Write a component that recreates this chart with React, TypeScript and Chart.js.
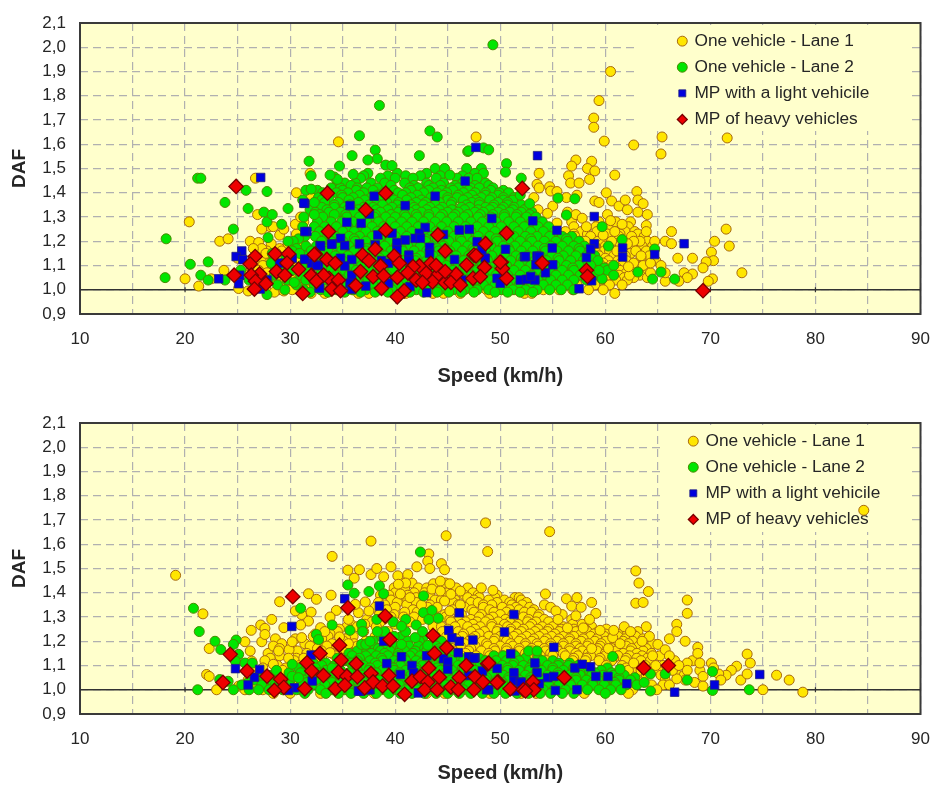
import React, { useEffect, useRef } from "react";
import { Chart, registerables } from "chart.js";

Chart.register(...registerables);

type Row = [number, number[]];
type Pair = [number, number];

const seriesNames = ["One vehicle - Lane 1", "One vehicle - Lane 2", "MP with a light vehicile", "MP of heavy vehicles"];
const axisTicks = [10, 20, 30, 40, 50, 60, 70, 80, 90];

const topLane1Sparse: Pair[] = [[60.5,1.9],[59.4,1.78],[58.9,1.708],[58.9,1.67],[59.9,1.613],[62.7,1.597],[65.4,1.63],[65.3,1.56],[71.6,1.626],[47.7,1.63],[60.9,1.473],[57.2,1.535],[56.8,1.51],[58.7,1.53],[58.3,1.5],[59,1.49],[56.5,1.47],[53.7,1.48],[56.7,1.44],[57.5,1.44],[58.5,1.455],[53.5,1.435],[53.7,1.42],[54.7,1.425],[54.8,1.407],[55.4,1.405],[57.3,1.39],[56.3,1.38],[53.2,1.38],[60.1,1.4],[59,1.366],[59.4,1.36],[60.6,1.366],[61.3,1.345],[62.1,1.33],[61.9,1.37],[63,1.405],[63.1,1.37],[63.6,1.355],[63.1,1.32],[64,1.31],[53.6,1.33],[55,1.345],[54.5,1.315],[56.4,1.32],[57.2,1.31],[57.8,1.295],[58.2,1.26],[55.4,1.275],[60.2,1.31],[60.5,1.285],[61.6,1.27],[60.9,1.24],[59.8,1.225],[60.6,1.2],[63.9,1.265],[63.9,1.24],[66.3,1.24],[64.7,1.2],[65.7,1.2],[66.3,1.19],[63.3,1.2],[62.7,1.2],[62.9,1.16],[63.4,1.14],[62.7,1.11],[63.6,1.1],[66.9,1.13],[68.3,1.13],[70.4,1.2],[71.5,1.25],[71.8,1.18],[70.1,1.155],[70.3,1.12],[69.6,1.115],[69.3,1.09],[73,1.07],[70.2,1.045],[69.8,1.035],[67.5,1.07],[68.3,1.065],[67.8,1.05],[67,1.035],[65.7,1.035],[65.7,1.07],[64.3,1.07],[65.3,1.1],[62.3,1.06],[61.6,1.02],[60.9,0.985],[62.2,1.095],[64.3,1.11],[61.1,1.16],[62.1,1.19],[20.4,1.28],[23.3,1.2],[24.1,1.21],[20,1.045],[21.3,1.015],[25.1,1.005],[23.7,1.08],[22.5,1.045],[26.7,1.46],[26.9,1.31],[30.6,1.4],[34.6,1.61],[31.9,1.48],[31.3,1.28],[32.9,1.335],[32.5,1.34],[26.2,1.2],[27,1.195],[27.3,1.17],[26.5,1.17],[28.1,1.26],[28.4,1.26],[27.3,1.25],[29,1.225],[29.4,1.25],[30.6,1.23],[31.1,1.2],[28.5,0.99],[29.4,0.995],[26,0.995],[29.4,1.025],[27.7,1.15],[25,1.13],[30.5,1.27],[31,1.3],[32,1.38],[34.8,1.27],[36,1.39],[37.8,1.42],[37.5,1.33],[39.2,1.3]];
const topLane1Rows: Row[] = [
  [1.28,[56.8,59.4,61,62.4]],
  [1.26,[53.9,57,59.1,60.2,62.2]],
  [1.24,[54.8,56.2,57.7,59.2,61.9,62.8]],
  [1.23,[55.3,57,58.3,60.2,61.4,63.1]],
  [1.22,[54,55.6,57.1,58.6,61.3,62.5,63.7]],
  [1.2,[53.2,55.1,56.6,58.1,59.3,61.6,64]],
  [1.19,[28.2,29.8,54.4,56,57.4,59.8,61.1,63]],
  [1.18,[52.7,54.6,56.3,57.8,59,60,61,62.1,63.5,64.5]],
  [1.17,[29,30.3,31.3,55.7,57.2,58.6,60.6,62.6]],
  [1.16,[27.8,29.2,53.3,55.4,57.2,58.5,59.9,60.4,63.9]],
  [1.15,[26.9,28.7,30.6,54.6,56.6,59.2,61.5,62.4]],
  [1.14,[26.8,28.3,30.1,54.2,56.1,57.6,59.4,60.8,61.9,64.2]],
  [1.13,[27.4,29.6,31,55.1,57,58.3,60,63.4]],
  [1.12,[28.9,30.6,52.4,55.4,57.2,58.9,60.3,61.2,62,64.8]],
  [1.11,[26.6,28,30,54.6,56.8,59.8,61.5,63]],
  [1.1,[27.4,29.4,31.2,53.7,56.4,58,59.6,60.5,61.6,63]],
  [1.09,[26.3,28.4,30.5,55.6,57.6,60,61.1,62.6,63.5]],
  [1.08,[27,28.3,30,54.9,57.3,59,60.1,61.4,62.9,64]],
  [1.07,[27.8,29.5,31,56.5,58.4,62,63.1]],
  [1.06,[25.8,29,30.7,53.2,56,57.6,58.8,60.3,61.3,63.3]],
  [1.05,[27,28.6,30.4,54.6,57,59.3,61.8,62.7,64]],
  [1.04,[26.4,28.2,30.1,31.4,55,56.8,58.4,59.6,61,62.1]],
  [1.02,[27.2,28.9,30.7,32.1,33.6,35.3,53.4,55.7,57.3,59,60.4]],
  [1,[27.7,28.9,30.2,31.6,33,34.4,35.9,37.2,38.7,40.2,41.5,43,44.4,45.9,47.3,48.7,50.1,51.4,52.8,54.1,55.6,56.9,58.4,59.8]],
  [0.985,[32,33.3,36.5,37.5,41,43.6,44.6,46.2,49,52.3,53]],
];

const topLane2Sparse: Pair[] = [[49.3,2.01],[38.5,1.76],[43.3,1.655],[44,1.63],[36.6,1.635],[21.2,1.46],[21.5,1.46],[18.2,1.21],[18.1,1.05],[20.5,1.105],[21.5,1.06],[22.2,1.115],[22.2,1.04],[23.8,1.04],[23.8,1.36],[24.6,1.25],[25.8,1.41],[26,1.335],[27.8,1.405],[27.5,1.32],[27.8,1.28],[28.3,1.31],[29.2,1.27],[27.9,1.215],[29.8,1.335],[31.8,1.53],[32,1.47],[31.5,1.41],[32,1.415],[31.2,1.37],[32.3,1.36],[31.3,1.3],[32.3,1.31],[35.9,1.553],[38.1,1.576],[38.3,1.54],[37.4,1.535],[34.7,1.51],[34.2,1.465],[34.5,1.455],[42.3,1.553],[46.9,1.57],[47,1.573],[48.4,1.585],[48.9,1.577],[50.6,1.52],[50.5,1.485],[52,1.46],[51.9,1.39],[52.8,1.355],[55.5,1.378],[57.1,1.375],[56.3,1.308],[59.7,1.26],[61.6,1.207],[64.7,1.168],[60.3,1.18],[63.1,1.073],[64.5,1.044],[65.3,1.073],[66.6,1.044],[60.8,1.1],[60.8,1.06],[59.7,1.045],[59.4,1.08],[45.2,1.473],[39.1,1.514],[39.7,1.512],[33.8,1.473],[36,1.476],[25.3,1.08],[26.1,1.04],[27.8,0.98],[28.3,1.15],[29.8,1.2],[30.9,1.15],[31.1,1.1],[29,1.08],[28.2,1.11],[30.4,1.03]];
const topLane2Rows: Row[] = [
  [1.5,[43.8,44.7,46.8,48.2]],
  [1.48,[37.4,40.2,43,47.6,48.4]],
  [1.47,[37,39.3,41,42.4,44.3,46.4]],
  [1.46,[36.7,38.6,40,41.7,43.9,45.9,47,47.8]],
  [1.44,[35.2,36.2,37.7,39,40.9,43,44.6,46.4,48.6]],
  [1.43,[34.4,35.8,39.6,41.8,43.2,44.3,45.7,47.6,48.9]],
  [1.42,[33.9,34.8,36.4,37.3,38.3,41.4,42.2,43.6,45.3,46,47.2,48,49.3]],
  [1.41,[32.6,35,36.3,37.9,39.9,41.5,43.2,44.4,45.5,47,49.1,50.3]],
  [1.4,[33.1,34.4,35.5,37,38.9,40.3,41,42.7,44,44.9,46.5,47.6,48.6,49.9,50.8]],
  [1.39,[33.6,34.9,36.6,38.3,40.7,42.1,44.6,46,47.3,48.6,49.8]],
  [1.38,[32.7,33.7,35,36,37.7,39.6,41.5,43.4,45,45.9,46.9,48.2,49.2,50.3,51.3]],
  [1.37,[33,35.6,37.1,38.7,39.9,41.1,42.5,43.8,45,46.5,47.7,49,50.3,51.2]],
  [1.36,[33.3,34.6,36.5,38.2,39.2,40.3,42,42.9,44.2,45.4,47.3,48,49.8,50.7]],
  [1.35,[32.5,34.2,35.7,37.5,38.8,40.2,41.5,42.7,43.8,45.3,46.8,48,49.4,50.7,52]],
  [1.34,[33,34.2,35.2,37,37.9,39.7,41,41.8,43.3,44.5,46.3,47.1,48.6,49.3,50.3,51.3,52.6]],
  [1.33,[31.9,33.5,35.5,36.5,38.2,39.3,40.5,42,43,44.2,45.4,46.6,47.9,49,50.1,51.2,52.3]],
  [1.32,[32.4,33.7,34.8,36.1,37.4,38.6,40.3,41.4,42.5,43.8,45,46,47.6,48.4,49.8,50.9,52,53]],
  [1.31,[32.8,34.2,35.3,37,38.1,39.6,40.9,42,43.2,44.5,45.7,46.9,48.1,49.3,50.4,51.6,52.8]],
  [1.3,[33.1,35.4,36.6,38,39.1,40,41,42.1,43.2,44.3,45.5,46.6,47.9,49.1,50.4,51.5,52.5,53.4]],
  [1.28,[32.6,33.9,34.9,36,37.3,38.4,39.6,40.6,41.6,42.7,43.8,44.9,46,47.2,48.3,49.6,50.8,51.9,53,54]],
  [1.26,[31.2,32.3,33.3,34.4,35.5,36.7,37.8,38.9,40,41.1,42.2,43.3,44.4,45.6,46.7,47.8,48.9,50.1,51.3,52.3,53.6,54.6]],
  [1.24,[32.8,33.8,35,36.1,37.2,38.3,39.4,40.5,41.6,42.8,43.9,45,46.1,47.2,48.4,49.5,50.6,51.7,52.9,54.1,55.2]],
  [1.22,[31.4,32.4,34.3,35.6,36.6,37.8,38.9,40,41.1,42.3,43.4,44.5,45.6,46.8,47.9,49,50.2,51.3,52.4,53.5,54.7,55.9,56.8]],
  [1.21,[30.8,33.4,36.1,39.5,42.9,46.2,49.6,52.9,56.3]],
  [1.2,[30.3,33,33.9,35,36.2,37.2,38.4,39.5,40.6,41.8,42.9,44,45.1,46.3,47.4,48.5,49.7,50.8,51.9,53,54.2,55.3,56.4,57.5]],
  [1.18,[31.5,32.5,34.4,35.6,36.7,37.9,39,40.1,41.2,42.4,43.5,44.6,45.8,46.9,48,49.1,50.3,51.4,52.5,53.6,54.8,55.9,57,58]],
  [1.17,[30.6,33.2,37.3,40.6,44,47.4,50.8,54.2,57.5]],
  [1.16,[30.2,32,33.6,34.9,36.1,37.2,38.4,39.6,40.7,41.8,43,44.1,45.2,46.4,47.5,48.6,49.8,50.9,52,53.1,54.3,55.4,56.5,57.6,58.5]],
  [1.14,[31.3,33,34.3,35.5,36.7,37.8,39,40.1,41.3,42.4,43.6,44.7,45.8,47,48.1,49.2,50.4,51.5,52.6,53.8,54.9,56,57.2,58.2,59]],
  [1.13,[29.6,32.7,38.5,42,45.2,48.7,52,55.5,58.7]],
  [1.12,[29.9,32.3,33.8,35,36.2,37.3,38.5,39.6,40.8,41.9,43,44.2,45.3,46.5,47.6,48.8,49.9,51,52.2,53.3,54.4,55.6,56.7,57.9,59.3]],
  [1.1,[29.3,32.5,33.2,34.5,35.6,36.8,38,39.1,40.3,41.4,42.6,43.7,44.9,46,47.2,48.3,49.5,50.6,51.8,52.9,54,55.2,56.3,57.5,58.6]],
  [1.09,[28.6,31.6,35.2,39.7,43.1,46.5,49.9,53.5,56.9,59.9]],
  [1.08,[30.2,31.8,33.9,35.1,36.3,37.4,38.6,39.8,40.9,42.1,43.2,44.4,45.5,46.7,47.8,49,50.1,51.3,52.4,53.6,54.7,55.9,57,58.1,60.2]],
  [1.06,[28.5,31,32.8,34.4,35.6,36.9,38,39.2,40.4,41.5,42.7,43.8,45,46.1,47.3,48.4,49.6,50.7,51.9,53,54.2,55.3,56.5,57.6,58.9]],
  [1.04,[27.9,29.7,31.5,33.3,34.9,36.2,37.4,38.6,39.8,41,42.1,43.3,44.4,45.6,46.7,47.9,49,50.2,51.3,52.5,53.6,54.8,55.9,57,58.2]],
  [1.02,[28.8,30.6,32.3,33.9,35.4,36.7,37.9,39.1,40.3,41.5,42.6,43.8,44.9,46.1,47.2,48.4,49.5,50.7,51.8,53,54.1,55.3,56.4]],
  [1,[29.5,31.3,32.9,34.5,36,37.2,38.5,39.7,40.9,42,43.2,44.3,45.5,46.6,47.8,48.9,50.1,51.2,52.4,53.5,54.7,55.8,57]],
  [0.99,[31.9,33.6,35.2,36.7,38.1,39.3,41.4,42.7,44,45.1,46.3,47.5,49.5,50.7,51.9,53.1]],
];

const topLightSparse: Pair[] = [[46.66,1.448],[47.68,1.587],[53.55,1.553],[43.8,1.386],[38,1.386],[35.7,1.347],[40.95,1.347],[31.4,1.356],[37.55,1.312],[49.2,1.294],[53.1,1.284],[35.4,1.278],[36.76,1.274],[31.6,1.24],[42.85,1.257],[46.1,1.246],[47.05,1.249],[38.35,1.226],[42.3,1.233],[44.6,1.228],[39.7,1.233],[34.8,1.212],[40.95,1.205],[41.9,1.212],[42.4,1.212],[32.85,1.182],[33.97,1.189],[35.2,1.182],[36.6,1.189],[40.16,1.194],[40.16,1.164],[38.1,1.185],[43.27,1.175],[43.27,1.15],[47.8,1.198],[48.25,1.164],[50.5,1.167],[52.3,1.136],[53.5,1.139],[31.4,1.125],[34.8,1.13],[35.87,1.125],[41.3,1.143],[41.3,1.122],[45.65,1.125],[48.57,1.13],[32.06,1.109],[32.7,1.102],[35.2,1.098],[38.7,1.12],[39.36,1.109],[49.7,1.047],[50.3,1.075],[51.9,1.04],[52.5,1.043],[53.3,1.04],[35.87,1.06],[35.7,1.027],[37.2,1.015],[32.76,1.008],[39.36,1.027],[35.87,1.002],[41.4,1.013],[43,0.988],[46.35,1.04],[50,1.027],[27.2,1.463],[31.3,1.357],[31.4,1.24],[25.4,1.16],[24.86,1.137],[25.5,1.124],[25.2,1.06],[25.1,1.025],[23.2,1.045],[27.15,1.003],[27.8,1.04],[29,1.11],[30.2,1.13],[31.4,1.126],[32.5,1.1],[32.9,1.18],[33.97,1.188],[32.8,1.007],[58.95,1.302],[55.4,1.245],[58.95,1.19],[58.6,1.168],[58.2,1.133],[54.95,1.172],[52.4,1.137],[53.7,1.137],[53.4,1.103],[55,1.103],[54.3,1.07],[52.9,1.055],[61.65,1.172],[61.65,1.135],[64.7,1.145],[67.5,1.19],[57.5,1.004],[58.7,1.037]];
const topHeavySparse: Pair[] = [[33.55,1.398],[39.1,1.398],[37.2,1.329],[52.1,1.418],[33.65,1.24],[39.1,1.246],[44.06,1.226],[50.6,1.233],[38.1,1.167],[44.76,1.16],[48.6,1.19],[32.4,1.147],[33.5,1.125],[34.3,1.109],[36.9,1.143],[37.5,1.12],[39.9,1.139],[40.4,1.109],[47.5,1.143],[42.3,1.098],[43.4,1.109],[46.8,1.102],[48.5,1.092],[50.1,1.113],[38.6,1.098],[36.7,1.075],[32.06,1.058],[33.7,1.047],[34.6,1.04],[37.9,1.054],[38.9,1.058],[40.2,1.051],[41.7,1.095],[42.95,1.068],[44.1,1.064],[45.8,1.064],[42,1.04],[43.55,1.033],[44.76,1.029],[47.4,1.047],[50.6,1.047],[50.2,1.088],[36.25,1.017],[38.7,1.006],[33.97,1.003],[34.8,0.996],[31.2,0.985],[40.85,0.995],[40.2,0.971],[33.2,1.06],[48.1,1.054],[44.76,1.075],[24.86,1.426],[26.67,1.137],[26.2,1.106],[24.67,1.06],[27.1,1.065],[26.3,1.06],[26.7,1.035],[27.7,1.025],[26.6,1.003],[28.57,1.148],[29.84,1.148],[29.7,1.11],[30.8,1.085],[28.7,1.075],[29.5,1.06],[32.3,1.145],[32,1.058],[32.5,1.035],[54,1.11],[50,1.114],[58.2,1.08],[58.3,1.055],[69.3,0.996],[41.2,1.07],[42.6,1.03],[43.9,1.1],[45.3,1.03],[46.2,1.02],[47.7,1.14]];

const botLane1Sparse: Pair[] = [[19.1,1.472],[21.7,1.313],[22.3,1.17],[22.05,1.063],[22.3,1.055],[23,1],[25.1,1.015],[25.7,1],[26.3,1.245],[25.7,1.198],[26.2,1.16],[27.2,1.267],[27.6,1.253],[28.25,1.29],[27.3,1.198],[27.6,1.228],[29,1.363],[31.75,1.396],[32.5,1.373],[33.9,1.39],[34,1.55],[37.7,1.613],[35.5,1.493],[36.6,1.495],[36.1,1.46],[37.7,1.475],[38.25,1.5],[38.9,1.466],[39.6,1.507],[42.06,1.507],[43.2,1.56],[43.1,1.53],[43.3,1.5],[44.4,1.52],[44.7,1.495],[44.85,1.635],[40.25,1.47],[41.2,1.475],[41,1.44],[40.3,1.435],[40.5,1.395],[41.4,1.38],[42.5,1.35],[43.65,1.437],[44.3,1.448],[45.2,1.437],[43.5,1.415],[44.3,1.407],[45.3,1.394],[46.2,1.407],[44.7,1.366],[46.2,1.35],[45.2,1.325],[28.4,1.18],[29,1.17],[29.9,1.165],[29.4,1.256],[31.1,1.31],[30.5,1.325],[32,1.32],[31.75,1.283],[31,1.267],[31.1,1.215],[30.2,1.198],[34.4,1.327],[33.8,1.3],[32.9,1.256],[33.3,1.24],[34.7,1.218],[35.55,1.29],[36.5,1.318],[37.5,1.325],[37.15,1.362],[36.2,1.352],[29.85,1.13],[28.9,1.16],[28.4,1.105],[31.3,1.13],[33.8,1.153],[35.55,1.19],[26.35,1.118],[27.15,1.036],[48.6,1.688],[48.8,1.57],[54.7,1.652],[84.6,1.74],[62.9,1.49],[63.2,1.44],[64.1,1.405],[62.9,1.357],[63.6,1.36],[67.8,1.37],[67.8,1.315],[48.2,1.42],[49.3,1.41],[54.3,1.395],[54.2,1.35],[54.8,1.34],[55.3,1.325],[56.3,1.375],[57.3,1.38],[56.8,1.345],[57.7,1.34],[58.7,1.36],[59.1,1.315],[57.2,1.305],[58.5,1.29],[55.5,1.29],[57.9,1.255],[56.4,1.255],[59.5,1.245],[60.7,1.215],[61.8,1.26],[62.4,1.24],[63.9,1.26],[64.2,1.22],[66.8,1.27],[66.8,1.24],[66.1,1.21],[65,1.187],[67.6,1.2],[68.8,1.175],[68.8,1.15],[65.7,1.165],[66.1,1.14],[64.5,1.14],[67.8,1.11],[67.8,1.08],[69,1.11],[70.1,1.11],[73.5,1.147],[73.8,1.11],[72.5,1.097],[72,1.08],[71.5,1.06],[72.9,1.04],[73.5,1.065],[70.8,1.065],[69.3,1.055],[68.5,1.03],[69.3,1.015],[76.3,1.06],[77.5,1.04],[75,1],[78.8,0.99],[66.1,1.02],[66.8,1.045],[62.2,0.985],[64.9,1],[60.8,1.245],[58.7,1.17],[60.3,1.17],[61.4,1.19],[63.5,1.2],[62.7,1.11],[64.8,1.1],[66.4,1.08],[67,1.1],[70.3,1.09],[71,1.04]];
const botLane1Rows: Row[] = [
  [1.44,[40.7,41.6,44.8]],
  [1.42,[39.9,40.9,42.2,43,45.8,46.9]],
  [1.4,[40,41.8,42.8,45,47.4]],
  [1.39,[38.6,39.4,41.2,43.3,46.6,47.9,49.7]],
  [1.38,[40.7,42,46.9,48,49.5,51.4,51.8]],
  [1.37,[39.6,41.2,43.8,44.4,45.7,47.5,48.9,50.4,52]],
  [1.36,[38.4,40.2,42,45.5,47.2,47.9,49.7,50.9,52.5]],
  [1.35,[39,41.1,43.3,46,48.4,49.2,51.1,52.1]],
  [1.34,[38.1,40,43.1,44,46.6,48.4,50.2,51.5,52.8]],
  [1.33,[39.2,41.7,45.5,47.3,49,50.9,51.8,53.2]],
  [1.32,[40.9,42.1,43.3,47.5,49.4,50.6,52.3,53]],
  [1.31,[38.5,39.9,44.7,46.3,48.2,50,51.2,53.7,55.9]],
  [1.3,[39.6,40.8,41.8,43.9,44.8,46.1,48,49.3,51.4,52.2,53.6]],
  [1.29,[37.3,38.9,42.6,45.2,47.2,48.9,50.5,52.7,54.2,56.8]],
  [1.28,[37.8,38.6,41.4,45.3,46.7,47.8,48.6,49.8,50.9,52.6,53.4,54.6]],
  [1.27,[35.8,37.1,40,44.1,46.3,47.4,49.2,50.4,51.7,53,55.4,56.9,57.8]],
  [1.26,[35.4,36.4,38.2,43.6,44.4,45.7,46.9,48.1,49.2,50.7,51.5,52.8,54,55,56,58.7]],
  [1.25,[34.7,36.9,45,47.6,49.8,51,52.2,53.6,54.6,55.8,57,58.1,60.1]],
  [1.24,[34.5,37,39.3,44.5,46,47.2,48.5,49.7,51,52,53.3,54.5,55.6,57.2,58.3,59.3,62,63.1]],
  [1.23,[32.4,33.8,35.7,38.3,46.5,48,50.4,51.6,52.8,54.1,55.2,56.5,57.7,58.9,60,61.2,62.6]],
  [1.22,[32.2,33.6,36,38.1,44.9,46.4,47.6,48.9,50,51.3,52.5,53.7,54.9,56,57,58.6,59.9,61.2,62.9]],
  [1.21,[28.6,30.5,33,35.3,45.8,47.3,49.5,50.7,52,53.2,54.4,55.6,56.6,57.9,59.2,60.6,61.9,63.6]],
  [1.2,[32.7,35.1,37.2,39.3,45.6,47,48.3,49.4,50.6,51.8,53,54.2,55.4,56.6,57.7,59,60,61.7,62.6]],
  [1.19,[29.2,31.4,34,36.1,46.6,48.7,51,52.4,53.5,54.8,56,57.2,58.4,59.6,61,62.2,64.5]],
  [1.18,[31.9,33.5,36.4,38,44.6,46.2,47.6,48.8,50,51.2,52.4,53.6,54.8,56,57.2,58.3,59.5,60.9,62,63.2]],
  [1.17,[30.2,32.6,34.8,37.2,45.4,47.2,49.4,50.6,51.8,53,54.2,55.4,56.6,57.6,59.3,60.6,62.5,63.9]],
  [1.16,[30.7,33,35,37,45.5,47,48.2,49.5,50.6,51.8,53,54.3,55.5,56.6,57.8,59.2,61,62.4,63.6]],
  [1.15,[27.9,31.6,34,35.8,46.7,48.9,51.2,52.4,53.6,54.8,56,57.2,58.4,60,61.7,63,64.4]],
  [1.14,[29,32.2,34.3,36,37.6,46.3,47.7,49,50.2,51.4,52.6,53.8,55,56.2,57.4,58.6,60,61.2,62.3,63.5,65.2]],
  [1.13,[28.1,30.6,33,35,57,58.2,59.5,60.8,62,63,64]],
  [1.12,[27.6,30.4,32.9,34.9,37,48.4,50.8,52.2,54.4,56.9,58.1,59.4,60.6,61.9,63.4,64.3,66.6,68.3]],
  [1.1,[28.8,30.9,33.4,60.1,61.6,63.8,65.5]],
  [1.09,[27.4,29.6,32,62,63,64.6]],
  [1.08,[26.6,29.3,31.8,59.9,62.2,63.4,65,65.9,69]],
  [1.06,[27.8,29.9,61.7,63.9,65.3,66.9,67.5]],
  [1.04,[26,28.6,30.7,63,65.7,67.6]],
  [1.02,[26.9,28.9,30.3,32,62,64.4,65.5]],
  [1,[27.4,29.8,31,33.5,36,39,42,45,48,51,54,57,60,62.6]],
  [0.985,[28.4,30,32.9,38,43,44.7,49,52,53.4,58]],
];

const botLane2Sparse: Pair[] = [[42.4,1.568],[20.8,1.336],[21.35,1.24],[22.85,1.2],[23.4,1.166],[24.86,1.205],[24.6,1.187],[25.1,1.146],[24.8,1.118],[25.7,1.11],[26.4,1.11],[21.2,1],[23.3,1.042],[24.1,1.035],[24.6,1],[27,1],[28.7,1.08],[30.2,1.105],[30.2,1.056],[30.8,1.05],[31,1.336],[32.5,1.228],[32.7,1.207],[34,1.267],[35.5,1.432],[36.1,1.398],[37.5,1.405],[38.5,1.428],[38.9,1.396],[42.7,1.387],[42.7,1.318],[43.5,1.327],[43.2,1.29],[44.1,1.295],[35.7,1.245],[36.8,1.27],[36.9,1.24],[38.25,1.29],[39.8,1.28],[41,1.29],[42,1.267],[39,1.24],[41,1.24],[42.6,1.24],[36.8,1.187],[37.2,1.187],[40.6,1.187],[41.9,1.215],[43.1,1.183],[38.3,1.24],[37.6,1.2],[39.9,1.22],[40.6,1.262],[52.7,1.16],[53.5,1.16],[60.7,1.137],[61.4,1.085],[65.7,1.065],[64.3,1.065],[64.3,0.995],[67.8,1.04],[70.2,1.075],[70.2,0.997],[73.7,1],[63,1.02],[63.7,1.03],[35,1.12],[34,1.09],[29.3,1.03]];
const botLane2Rows: Row[] = [
  [1.22,[38.7,40.6,42.7,43.8]],
  [1.2,[37.9,39.3,41.2,42.3,44.4]],
  [1.18,[37.8,38.9,39.9,41.3,42.2,43.9,44.9]],
  [1.17,[36.9,38.4,40.5,42.8,44.2]],
  [1.16,[36.4,37.3,38.6,39.5,40.9,41.9,43,44.2]],
  [1.15,[35.6,37.7,39,40.3,41.7,43.4,44.9,45.9]],
  [1.14,[35.9,37.2,38.2,39.3,40.3,41.4,42.4,43.5,44.4,45.5,49.4,50.3,51.4]],
  [1.13,[34.5,36.6,38.7,40.9,42.9,45,46.3,48,50.9,52.4,53.6]],
  [1.12,[35.3,36.4,37.6,38.8,39.9,41,42,43,44.2,45.4,46.5,47.5,48.6,49.6,50.6,51.8,54,55]],
  [1.11,[32.2,33.4,35.8,38.1,40.4,42.5,44.6,47,49.1,51.3,53.1,55.6,56.6]],
  [1.1,[33,34.2,36,37,38.3,39.4,40.5,41.5,42.6,43.8,44.9,46,47,48.1,49.1,50.2,51.2,52.2,53.4,54.5,55.5,56.5,57.4]],
  [1.09,[30.8,32.4,34.5,37.6,39.8,42,44,46.4,48.6,50.7,52.8,55,57,58.2,60.2]],
  [1.08,[31.4,33.4,34.8,36.4,37.5,38.8,39.9,41,42,43.2,44.3,45.4,46.5,47.6,48.6,49.7,50.7,51.8,52.8,53.9,55,56,57.1,58.2,59.6]],
  [1.07,[29.9,31,32.6,35.6,38.2,40.4,42.6,44.8,47,49.2,51.3,53.4,55.5,57.6,59,60.6]],
  [1.06,[28.2,31.9,33,34.2,35.4,36.8,38,39.3,40.4,41.5,42.6,43.7,44.8,45.9,47,48.1,49.2,50.3,51.3,52.4,53.4,54.5,55.5,56.6,57.6,58.7,59.8,60.8,61.8]],
  [1.05,[27,29,34.8,37.6,39.9,42.1,44.3,46.5,48.7,50.8,52.9,55,57.2,59.3,61.3,62.8]],
  [1.04,[26.6,27.9,30,31.3,32.5,33.7,34.9,36.1,37.4,38.5,39.8,40.9,42,43.1,44.2,45.3,46.4,47.5,48.6,49.7,50.8,51.8,52.9,53.9,55,56.1,57.2,58.2,59.3,60.3,61.3,62.4]],
  [1.03,[26,28.4,31.6,34,37,39.3,41.5,43.6,45.8,48,50.2,52.3,54.5,56.6,58.8,60.9]],
  [1.02,[25.4,27.3,28.6,29.9,31,32.1,33.3,34.5,35.6,36.9,38,39.2,40.4,41.5,42.6,43.7,44.8,45.9,47,48.1,49.2,50.3,51.4,52.4,53.5,54.6,55.6,56.7,57.8,58.8,59.9,61,62]],
  [1,[26.1,28,29.3,30.6,31.7,32.9,34,35.2,36.4,37.5,38.7,39.9,41,42.1,43.2,44.3,45.4,46.5,47.6,48.7,49.8,50.9,51.9,53,54.1,55.1,56.2,57.3,58.3,59.4,60.5,61.5]],
  [0.985,[31.4,33.4,34.6,35.8,37,38.2,39.4,40.5,41.6,42.8,43.9,45,46.1,47.2,48.3,49.4,50.5,51.6,52.7,53.8,54.8,55.9,57,60]],
];

const botLightSparse: Pair[] = [[35.2,1.375],[38.5,1.345],[46.1,1.317],[51.3,1.31],[50.4,1.238],[45.1,1.245],[45.4,1.214],[46.1,1.2],[47.4,1.205],[46,1.153],[51,1.148],[40.6,1.136],[47,1.136],[47.6,1.132],[44.6,1.128],[45,1.115],[43,1.14],[39.2,1.108],[41.6,1.1],[45,1.084],[53.3,1.11],[49.7,1.088],[48.3,1.077],[51.3,1.07],[53.5,1.07],[51.3,1.036],[51.9,1.032],[40.5,1.063],[41.75,1.07],[32,1.143],[32.1,1.036],[38.9,1.2],[47,1.059],[48.9,1],[51.4,0.995],[42.2,0.987],[36.66,0.994],[37.6,1],[24.8,1.087],[26.6,1.052],[26,1.02],[27.1,1.084],[30.16,1.261],[30.4,1.008],[29.85,0.997],[36.5,0.995],[37.5,1],[47.5,1.13],[55.1,1.175],[52,1.03],[54.5,1.05],[55.1,1.055],[57.1,1.09],[57.8,1.105],[58.6,1.095],[59.1,1.055],[60.25,1.055],[62.05,1.025],[55.25,0.997],[57.3,1],[53.7,1.025],[48.7,1],[74.7,1.063],[70.4,1.02],[66.6,0.99]];
const botHeavySparse: Pair[] = [[35.5,1.338],[39.05,1.304],[39.5,1.207],[43.6,1.224],[44.9,1.173],[43.75,1.15],[32.85,1.15],[34.7,1.184],[34.85,1.122],[31.6,1.111],[32.06,1.077],[33.17,1.059],[36.3,1.107],[34.6,1.073],[35.4,1.056],[36.4,1.054],[37.7,1.067],[39.4,1.059],[43.2,1.09],[46.76,1.1],[48.8,1.107],[46.1,1.05],[47.6,1.054],[48.35,1.032],[49.8,1.032],[53.1,1.032],[31.4,1.004],[34.3,1.004],[35.2,1.019],[37.1,1.008],[37.9,1.032],[38.8,1.015],[39.8,1.015],[41.6,1.036],[42.4,1.054],[43.1,1.032],[44.2,1.052],[42.8,1],[44,1],[45.3,1.011],[47.5,1],[50.95,1.004],[40.9,0.981],[46,1.001],[52.2,1],[53.2,1],[30.25,1.384],[24.3,1.146],[23.6,1.03],[25.9,1.077],[27.8,1.056],[29.1,1.043],[29.4,1.01],[28.5,0.997],[63.65,1.09],[66,1.1],[56.1,1.05],[52.4,0.995],[48.9,1.11],[49.7,1.03]];

const expand = (rows: Row[], sparse: Pair[]) => [
  ...rows.flatMap(([y, xs]) => xs.map((x) => ({ x, y }))),
  ...sparse.map(([x, y]) => ({ x, y })),
];

const FONT = "'Liberation Sans', Arial, sans-serif";
const INK = "#262626";

function makeConfig(opts: {
  lane1: any[]; lane2: any[]; light: any[]; heavy: any[];
  titlePad: number; box: [number, number, number, number]; legendLeft: number; legendTop: number;
}): any {
  const [bx1, by1, bx2, by2] = opts.box;
  const framePlugin = {
    id: "frame",
    beforeDraw(chart: any) {
      const { ctx, chartArea: a } = chart;
      ctx.save();
      ctx.fillStyle = "#FFFFCC";
      ctx.fillRect(a.left, a.top, a.right - a.left, a.bottom - a.top);
      ctx.restore();
    },
    afterLayout(chart: any) {
      const lg = chart.legend;
      lg.left = opts.legendLeft;
      lg.top = opts.legendTop;
      lg.right = lg.left + lg.width;
      lg.bottom = opts.legendTop + 300;
      if (!lg.__wrapped) {
        lg.__wrapped = true;
        const draw = lg.draw.bind(lg);
        lg.draw = () => {
          const c = chart.ctx;
          c.save();
          c.fillStyle = "#FFFFCC";
          c.fillRect(bx1, by1, bx2 - bx1, by2 - by1);
          c.restore();
          draw();
        };
      }
    },
    beforeDatasetsDraw(chart: any) {
      const { ctx, chartArea: a } = chart;
      ctx.save();
      ctx.strokeStyle = "#3a3a3a";
      ctx.lineWidth = 2;
      ctx.strokeRect(a.left, a.top, a.right - a.left, a.bottom - a.top);
      ctx.restore();
    },
  };
  const mark = (label: string, data: any[], order: number, pointStyle: string, bg: string, bd: string, r: number, w: number) => ({
    label, data, order, pointStyle, backgroundColor: bg, borderColor: bd,
    pointBackgroundColor: bg, pointBorderColor: bd, pointRadius: r, pointBorderWidth: w, borderWidth: w, showLine: false,
  });
  return {
    type: "scatter",
    plugins: [framePlugin],
    data: {
      datasets: [
        mark(seriesNames[0], opts.lane1, 4, "circle", "#FFE600", "#A86A10", 5, 1),
        mark(seriesNames[1], opts.lane2, 3, "circle", "#00E600", "#4A8A00", 5, 1),
        mark(seriesNames[2], opts.light, 2, "rect", "#0000DD", "#202080", 6, 0.8),
        mark(seriesNames[3], opts.heavy, 1, "rectRot", "#EE0000", "#7A0000", 7.2, 1.3),
        {
          label: "",
          data: axisTicks.map((x) => ({ x, y: 1 })),
          order: 5,
          showLine: true,
          borderColor: "#333333",
          borderWidth: 1.4,
          pointStyle: "line",
          pointRotation: 90,
          pointRadius: 2.6,
          pointBorderColor: "#333333",
          pointBorderWidth: 1.2,
        },
      ],
    },
    options: {
      animation: false,
      responsive: false,
      maintainAspectRatio: false,
      layout: { autoPadding: false, padding: { left: 0, right: 11.5, top: 23, bottom: 0 } },
      plugins: {
        tooltip: { enabled: false },
        legend: {
          position: "chartArea",
          align: "start",
          labels: {
            usePointStyle: true,
            boxWidth: 7,
            boxHeight: 7,
            padding: 8.8,
            color: INK,
            font: { family: FONT, size: 17.3 },
            filter: (it: any) => it.text !== "",
            sort: (a: any, b: any) => a.datasetIndex - b.datasetIndex,
          },
        },
      },
      scales: {
        x: {
          type: "linear",
          min: 10,
          max: 90,
          afterFit: (s: any) => { s.height = s.chart.height - 291 - 23; s.paddingLeft = 0; s.paddingRight = 0; },
          afterBuildTicks: (s: any) => {
            const t: any[] = [];
            for (const v of axisTicks) { t.push({ value: v }); if (v < 90) t.push({ value: v + 5 }); }
            s.ticks = t;
          },
          ticks: {
            autoSkip: false, maxRotation: 0, padding: 15, color: INK,
            font: { family: FONT, size: 17 },
            callback: (v: number) => (axisTicks.includes(v) ? String(v) : ""),
          },
          grid: { color: "#B0B0B0", lineWidth: 1.2, drawTicks: false },
          border: { display: false, dash: [8, 5] },
          title: { display: true, text: "Speed (km/h)", color: INK, font: { family: FONT, size: 20, weight: "bold" }, padding: { top: 0, bottom: opts.titlePad } },
        },
        y: {
          min: 0.9,
          max: 2.1,
          afterFit: (s: any) => { s.width = 80; s.paddingTop = 0; s.paddingBottom = 0; },
          ticks: {
            stepSize: 0.1, padding: 14, color: INK,
            font: { family: FONT, size: 17 },
            callback: (v: number) => v.toFixed(1).replace(".", ","),
          },
          grid: { color: "#B0B0B0", lineWidth: 1.2, drawTicks: false },
          border: { display: false, dash: [8, 5] },
          title: { display: true, text: "DAF", color: INK, font: { family: FONT, size: 19, weight: "bold" }, padding: { top: 8.6, bottom: 0 } },
        },
      },
    },
  };
}

export default function App() {
  const topRef = useRef<HTMLCanvasElement>(null);
  const botRef = useRef<HTMLCanvasElement>(null);
  useEffect(() => {
    const a = new Chart(topRef.current!, makeConfig({
      lane1: expand(topLane1Rows, topLane1Sparse),
      lane2: expand(topLane2Rows, topLane2Sparse),
      light: expand([], topLightSparse),
      heavy: expand([], topHeavySparse),
      titlePad: 6.5,
      box: [638, 25, 908, 131],
      legendLeft: 670,
      legendTop: 23.7,
    }));
    const b = new Chart(botRef.current!, makeConfig({
      lane1: expand(botLane1Rows, botLane1Sparse),
      lane2: expand(botLane2Rows, botLane2Sparse),
      light: expand([], botLightSparse),
      heavy: expand([], botHeavySparse),
      titlePad: 0,
      box: [662, 25, 908, 132],
      legendLeft: 681,
      legendTop: 23.7,
    }));
    return () => { a.destroy(); b.destroy(); };
  }, []);
  const base: React.CSSProperties = { position: "absolute", left: 0, display: "block", filter: "blur(0.4px)" };
  return (
    <div style={{ position: "absolute", left: 0, top: 0, width: 932, height: 785, overflow: "hidden", background: "#fff" }}>
      <canvas ref={topRef} width={932} height={395} style={{ ...base, top: 0 }} />
      <canvas ref={botRef} width={932} height={385} style={{ ...base, top: 400 }} />
    </div>
  );
}
